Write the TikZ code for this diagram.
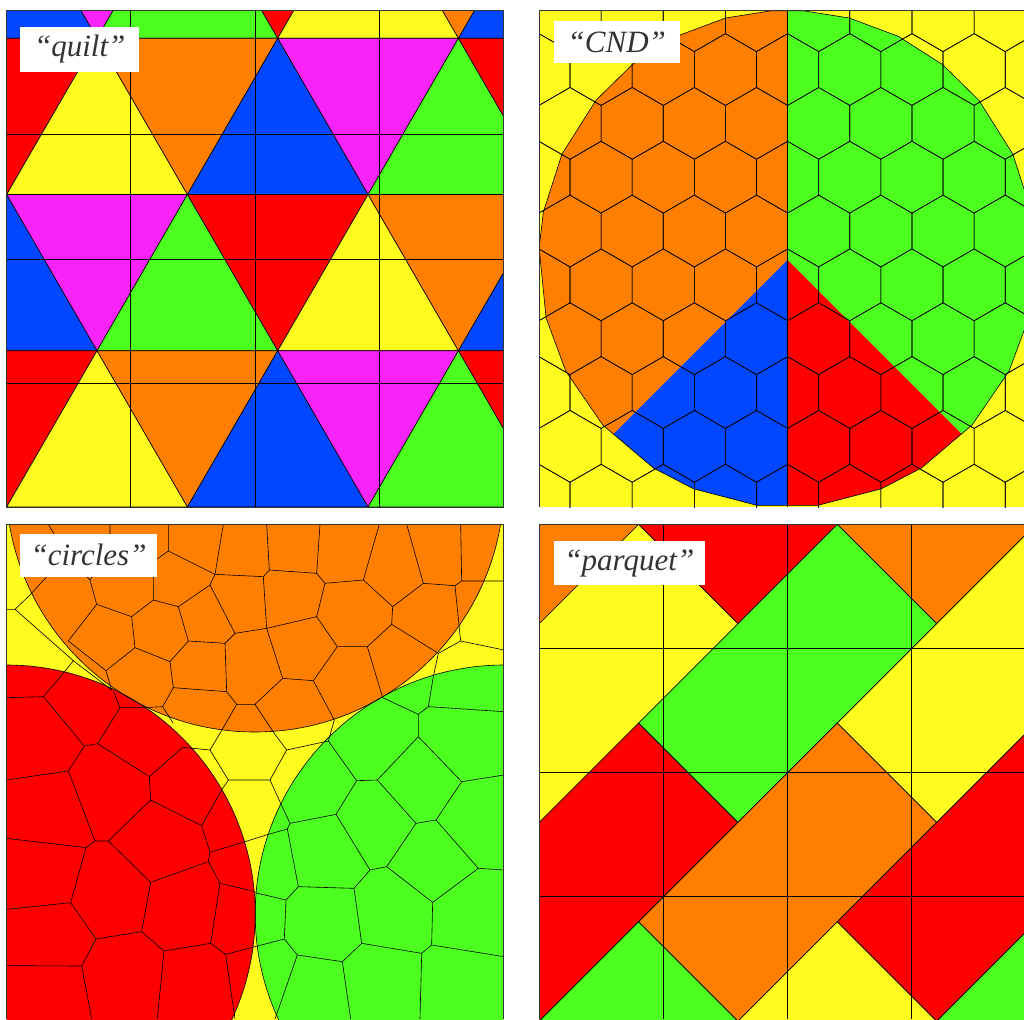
\documentclass[tikz,border=0pt]{standalone}
\usepackage{fontspec}
\newfontfamily\tagfont{Liberation Serif}
\usetikzlibrary{positioning}
\definecolor{qred}{HTML}{FF0000}
\definecolor{qorange}{HTML}{FF8000}
\definecolor{qyellow}{HTML}{FFFB1E}
\definecolor{qgreen}{HTML}{4DFF1E}
\definecolor{qblue}{HTML}{0047FF}
\definecolor{qmagenta}{HTML}{F823F8}
\newcommand{\rimangles}{104.4,116.5,128.6,140.4,155.1,169.2,177.5,193.8,206.9,222.0,237.4,247.8,263.0,277.0,292.2,302.6,318.0,333.1,346.2,362.5,370.8,384.9,399.6,411.4,423.5,435.6,446.4,453.6}
\begin{document}
\begin{tikzpicture}[x=1pt, y=-1pt,
    tile/.style={draw=black, line width=0.6pt, line join=round},
    celledge/.style={draw=black, line width=0.6pt, line join=round},
    gridline/.style={draw=black, line width=0.9pt},
    panelframe/.style={draw=black!80, line width=0.8pt},
    spoke/.style={draw=black, line width=1.3pt},
    tag/.style={fill=white, inner sep=0pt, anchor=north west, text=black!80, font=\tagfont\fontsize{31}{34}\selectfont\itshape}
]
\useasboundingbox (0,0) rectangle (1024,1019);
\fill[white] (0,0) rectangle (1024,1019);

\begin{scope}
\clip (6.7,10.7) rectangle (503.3,507.3);
\foreach \r in {-1,...,2}
  \foreach \j in {0,...,6} {
    \pgfmathtruncatemacro\ci{mod(\j+3*mod(\r+11,2),6)}
    \ifcase\ci \def\tc{qblue}\or \def\tc{qmagenta}\or \def\tc{qgreen}\or \def\tc{qred}\or \def\tc{qyellow}\or \def\tc{qorange}\fi
    \pgfmathsetmacro\xa{6.7+90.35*(\j-1)}
    \pgfmathsetmacro\xb{6.7+90.35*\j}
    \pgfmathsetmacro\xc{6.7+90.35*(\j+1)}
    \pgfmathsetmacro\ya{38.3+156.2*\r}
    \pgfmathsetmacro\yb{38.3+156.2*(\r+1)}
    \pgfmathtruncatemacro\up{mod(\j+\r+10,2)}
    \ifnum\up=1
      \filldraw[tile, fill=\tc] (\xb,\ya) -- (\xa,\yb) -- (\xc,\yb) -- cycle;
    \else
      \filldraw[tile, fill=\tc] (\xa,\ya) -- (\xc,\ya) -- (\xb,\yb) -- cycle;
    \fi
  }
\foreach \k in {1,2,3} {
  \draw[gridline] ({6.7+124.15*\k},10.7) -- ({6.7+124.15*\k},507.3);
  \draw[gridline] (6.7,{10.7+124.15*\k}) -- (503.3,{10.7+124.15*\k});
}
\end{scope}
\draw[panelframe] (6.7,10.7) rectangle (503.3,507.3);
\node[tag, minimum width=119pt, minimum height=45pt] (quilt) at (20,26.7) {“quilt”};

\begin{scope}
\clip (539.3,10.7) rectangle (1024,507.3);
\fill[qyellow] (539.3,10.7) rectangle (1024,507.3);
\begin{scope}
\clip ({787.4+248.5*cos(93.6)},{258.7-248.5*sin(93.6)}) \foreach \a in \rimangles {-- ({787.4+248.5*cos(\a)},{258.7-248.5*sin(\a)})};
\fill[qorange] (530,0) rectangle (787.7,520);
\fill[qgreen] (787.7,0) rectangle (1040,520);
\coordinate (hub) at (787.7,260);
\fill[qblue] (hub) -- ++(-400,400) -- ++(400,0) -- cycle;
\fill[qred] (hub) -- ++(400,400) -- ++(-400,0) -- cycle;
\end{scope}
\foreach \n in {-3,...,6}
  \foreach \k in {-5,...,4} {
    \pgfmathsetmacro\hx{787.6+62.17*\k+31.085*mod(\n+10,2)}
    \pgfmathsetmacro\hy{177.2+53.83*\n}
    \draw[tile] (\hx,\hy) +(30:35.9) -- +(90:35.9) -- +(150:35.9) -- +(210:35.9) -- +(270:35.9) -- +(330:35.9) -- cycle;
  }
\draw[tile] ({787.4+248.5*cos(93.6)},{258.7-248.5*sin(93.6)}) \foreach \a in \rimangles {-- ({787.4+248.5*cos(\a)},{258.7-248.5*sin(\a)})};
\draw[spoke] (787.7,10.7) -- (787.7,507.3);
\end{scope}
\draw[panelframe] (539.3,507.3) -- (539.3,10.7) -- (1024,10.7);
\node[tag, minimum width=126.7pt, minimum height=42.6pt] (cnd) at (553.3,20.7) {“CND”};

\begin{scope}
\clip (6.7,524.3) rectangle (503.3,1019);
\begin{scope}[shift={(0,515)}, scale=0.33333]
\fill[qyellow] (20,28) rectangle (1512,1520);
\fill[qorange] (765,-96) circle[radius=747];
\fill[qred] (18.6,1197) circle[radius=747];
\fill[qgreen] (1512.6,1197) circle[radius=747];
\draw[celledge]
 (145,28) -- (200,120) -- (90,240)
 (200,120) -- (270,195)
 (330,28) -- (330,100) -- (270,195) -- (290,268) -- (205,378)
 (330,100) -- (460,140) -- (505,108) -- (505,28)
 (460,140) -- (460,255) -- (395,305) -- (290,268)
 (505,108) -- (645,178) -- (670,28)
 (645,178) -- (630,210) -- (535,275) -- (460,255)
 (645,178) -- (790,185) -- (808,165) -- (800,28)
 (808,165) -- (950,175) -- (960,28)
 (950,175) -- (975,205) -- (1090,195) -- (1138,28)
 (1090,195) -- (1178,275) -- (1270,205) -- (1220,28)
 (1270,205) -- (1365,212) -- (1385,198) -- (1382,28)
 (1385,198) -- (1512,198)
 (1365,212) -- (1378,340) -- (1382,378) -- (1512,405)
 (1382,378) -- (1315,415) -- (1300,485)
 (1315,415) -- (1175,328) -- (1178,275)
 (1175,328) -- (1102,395) -- (1148,548)
 (1102,395) -- (1012,395) -- (950,305) -- (975,205)
 (950,305) -- (800,340) -- (790,185)
 (800,340) -- (705,355) -- (630,210)
 (705,355) -- (675,385) -- (565,378) -- (535,275)
 (565,378) -- (510,440) -- (405,398) -- (395,305)
 (405,398) -- (318,467) -- (205,378)
 (318,467) -- (335,525)
 (510,440) -- (520,518) -- (680,530) -- (675,385)
 (520,518) -- (488,575) -- (430,578)
 (680,530) -- (710,568) -- (765,568) -- (848,490) -- (800,340)
 (848,490) -- (940,497) -- (1012,395)
 (940,497) -- (1003,615) -- (985,678)
 (765,568) -- (825,658) -- (860,705)
 (710,568) -- (660,655) -- (630,705);
\draw[celledge]
 (20,283) -- (45,283) -- (90,240)
 (45,283) -- (220,437) -- (335,525)
 (220,437) -- (190,475)
 (630,705) -- (685,795) -- (810,795) -- (860,705) -- (985,678)
 (630,705) -- (548,697)
 (685,795) -- (665,825)
 (810,795) -- (842,865)
 (735,980) -- (805,958)
 (488,575) -- (520,625);
\draw[celledge]
 (20,548) -- (130,545) -- (190,475)
 (130,545) -- (253,693) -- (293,686) -- (360,578) -- (430,578)
 (360,578) -- (340,528)
 (253,693) -- (205,768) -- (20,795)
 (293,686) -- (448,785) -- (548,697)
 (448,785) -- (452,855) -- (605,932) -- (665,825)
 (452,855) -- (325,978) -- (285,978) -- (205,768)
 (605,932) -- (630,1012) -- (735,980)
 (630,1012) -- (625,1040) -- (660,1105) -- (765,1130)
 (625,1040) -- (452,1102) -- (325,978)
 (285,978) -- (258,998) -- (20,970)
 (258,998) -- (212,1163) -- (20,1183)
 (212,1163) -- (288,1272) -- (425,1250) -- (452,1102)
 (425,1250) -- (492,1308) -- (632,1285) -- (660,1105)
 (632,1285) -- (677,1318) -- (765,1295)
 (677,1318) -- (705,1512)
 (492,1308) -- (472,1512)
 (288,1272) -- (245,1353) -- (20,1352)
 (245,1353) -- (275,1512);
\draw[celledge]
 (1148,548) -- (1255,598) -- (1285,575) -- (1300,485)
 (1285,575) -- (1512,590)
 (1255,598) -- (1255,665) -- (1132,795) -- (1070,797) -- (985,678)
 (1255,665) -- (1385,800) -- (1512,780)
 (1385,800) -- (1308,915) -- (1248,925) -- (1132,795)
 (1308,915) -- (1435,1060) -- (1512,1065)
 (1435,1060) -- (1298,1162) -- (1160,1055) -- (1248,925)
 (1160,1055) -- (1110,1065) -- (1008,898) -- (1070,797)
 (1008,898) -- (870,925) -- (842,865)
 (870,925) -- (862,942) -- (805,958)
 (862,942) -- (895,1115) -- (1062,1120) -- (1110,1065)
 (895,1115) -- (858,1155) -- (765,1133)
 (858,1155) -- (853,1272) -- (765,1295)
 (853,1272) -- (892,1320) -- (1027,1340) -- (1085,1285) -- (1062,1120)
 (892,1320) -- (825,1512)
 (1027,1340) -- (1052,1512)
 (1085,1285) -- (1265,1315) -- (1295,1290) -- (1298,1162)
 (1295,1290) -- (1512,1325)
 (1265,1315) -- (1260,1512);
\draw[tile] (765,-96) circle[radius=747];
\draw[tile] (18.6,1197) circle[radius=747];
\draw[tile] (1512.6,1197) circle[radius=747];
\end{scope}
\end{scope}
\draw[panelframe] (6.7,1019) -- (6.7,524.3) -- (503.3,524.3) -- (503.3,1019);
\node[tag, minimum width=136.7pt, minimum height=43.4pt] (circles) at (20,533.3) {“circles”};

\begin{scope}
\clip (539.3,524.3) rectangle (1024,1019);
\begin{scope}[shift={(539.3,524.3)}, x={(62.1pt,-62.1pt)}, y={(62.1pt,62.1pt)}]
\foreach \c/\aa/\ab/\ba/\bb in {qorange/-0.8/0.8/-0.8/2.4, qyellow/0.8/2.4/-2.4/0.8, qred/0.8/2.4/0.8/4.0,
    qred/2.4/4.0/-4.0/-0.8, qgreen/2.4/4.0/-0.8/2.4, qorange/2.4/4.0/2.4/5.6,
    qgreen/4.0/5.6/-5.6/-2.4, qorange/4.0/5.6/-2.4/0.8, qyellow/4.0/5.6/0.8/4.0,
    qyellow/5.6/7.2/-4.0/-0.8, qred/5.6/7.2/-0.8/2.4, qgreen/7.2/8.8/-2.4/0.8}
  \filldraw[tile, fill=\c] (\aa,\ba) -- (\ab,\ba) -- (\ab,\bb) -- (\aa,\bb) -- cycle;
\end{scope}
\foreach \k in {1,2,3} {
  \draw[gridline] ({539.3+124.2*\k},524.3) -- ({539.3+124.2*\k},1019);
  \draw[gridline] (539.3,{524.3+124.2*\k}) -- (1024,{524.3+124.2*\k});
}
\end{scope}
\draw[panelframe] (539.3,1019) -- (539.3,524.3) -- (1024,524.3);
\node[tag, minimum width=151.7pt, minimum height=44pt] (parquet) at (553.3,541) {“parquet”};
\end{tikzpicture}
\end{document}
